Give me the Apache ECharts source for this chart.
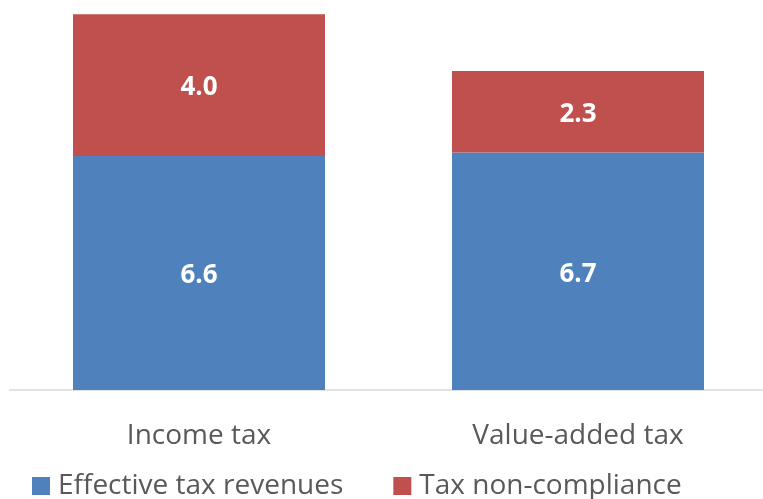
<!DOCTYPE html>
<html>
<head>
<meta charset="utf-8">
<script src="https://cdn.jsdelivr.net/npm/echarts@6/dist/echarts.min.js"></script>
<style>
html,body{margin:0;padding:0;background:#fff;overflow:hidden;}
#c{width:768px;height:499px;}
</style>
</head>
<body>
<div id="c"></div>
<script>
const categories = ["Income tax", "Value-added tax"];
const effectiveRevenues = [6.6, 6.7];
const nonCompliance = [4.0, 2.3];
const seriesNames = ["Effective tax revenues", "Tax non-compliance"];

const FONT = "'Open Sans', 'Noto Sans', sans-serif";
const chart = echarts.init(document.getElementById('c'), null, {renderer: 'canvas'});
const labelStyle = {
  show: true,
  position: 'inside',
  offset: [0, 3],
  color: '#ffffff',
  fontFamily: FONT,
  fontWeight: 'bold',
  fontSize: 26,
  formatter: p => p.value.toFixed(1)
};
chart.setOption({
  animation: false,
  backgroundColor: '#ffffff',
  grid: {left: 9.5, right: 0.5, top: 0, bottom: 109, containLabel: false},
  xAxis: {
    type: 'category',
    data: categories,
    axisLine: {show: true, lineStyle: {color: '#d9d9d9', width: 1.5}},
    axisTick: {show: false},
    axisLabel: {color: '#595959', fontFamily: FONT, fontSize: 28, margin: 32}
  },
  yAxis: {
    type: 'value',
    min: 0,
    max: 11,
    show: false,
    splitLine: {show: false}
  },
  legend: {
    data: seriesNames,
    bottom: -6,
    left: 27,
    itemWidth: 18,
    itemHeight: 18,
    itemGap: 50,
    icon: 'rect',
    textStyle: {color: '#595959', fontFamily: FONT, fontSize: 28, padding: [0, 0, 0, 3]}
  },
  series: [
    {
      name: seriesNames[0],
      type: 'bar',
      stack: 'total',
      data: effectiveRevenues,
      barWidth: 252,
      itemStyle: {color: '#4F81BD'},
      label: labelStyle
    },
    {
      name: seriesNames[1],
      type: 'bar',
      stack: 'total',
      data: nonCompliance,
      barWidth: 252,
      itemStyle: {color: '#C0504D'},
      label: labelStyle
    }
  ]
});
</script>
</body>
</html>
